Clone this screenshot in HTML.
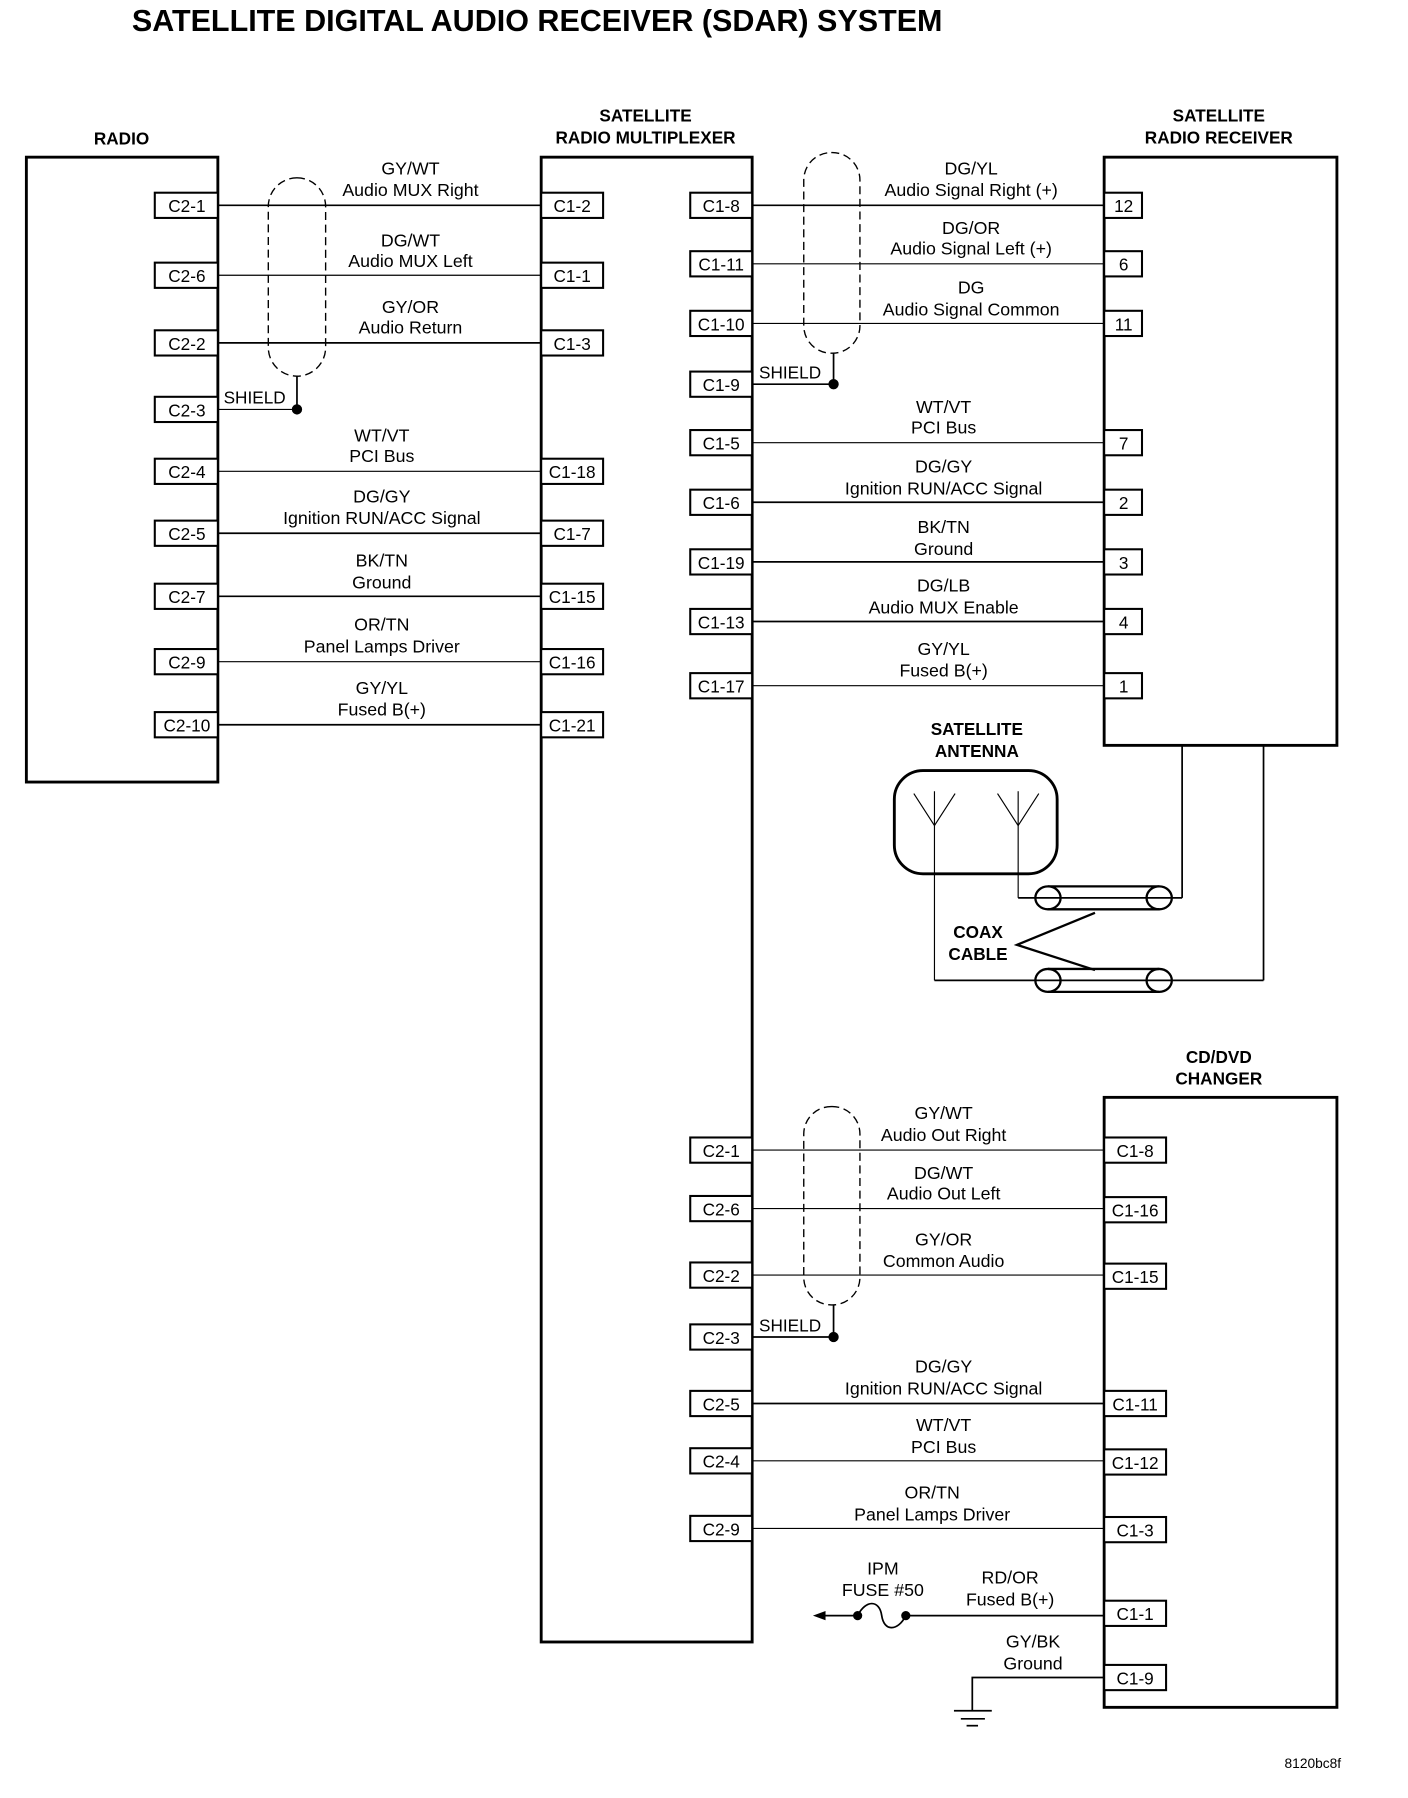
<!DOCTYPE html>
<html><head><meta charset="utf-8"><style>
html,body{margin:0;padding:0;background:#fff;}
svg{display:block;}
text{font-family:"Liberation Sans",Arial,sans-serif;fill:#000;}
.t{font-size:15.5px;text-anchor:middle;}
.p{font-size:15px;text-anchor:middle;}
.b{font-size:15px;font-weight:bold;text-anchor:middle;}
.box{fill:none;stroke:#000;stroke-width:2.5;}
.pin{fill:#fff;stroke:#000;stroke-width:1.8;}
.w{stroke:#000;stroke-width:1.5;fill:none;}
.wt{stroke:#000;stroke-width:1;fill:none;}
.sh{fill:none;stroke:#000;stroke-width:1.2;stroke-dasharray:7,4;}
</style></head><body>
<svg width="1408" height="1798" viewBox="0 0 1228 1568" xmlns="http://www.w3.org/2000/svg">
<text x="115" y="27" style="font-size:27px;font-weight:bold;" textLength="707" lengthAdjust="spacingAndGlyphs">SATELLITE DIGITAL AUDIO RECEIVER (SDAR) SYSTEM</text>

<text class="b" x="106" y="126">RADIO</text>
<rect class="box" x="23" y="137" width="167" height="545"/>
<text class="b" x="563" y="106">SATELLITE</text>
<text class="b" x="563" y="125">RADIO MULTIPLEXER</text>
<rect class="box" x="472" y="137" width="184" height="1295"/>
<text class="b" x="1063" y="106">SATELLITE</text>
<text class="b" x="1063" y="125">RADIO RECEIVER</text>
<rect class="box" x="963" y="137" width="203" height="513"/>
<text class="b" x="1063" y="927">CD/DVD</text>
<text class="b" x="1063" y="946">CHANGER</text>
<rect class="box" x="963" y="957" width="203" height="532"/>

<g>
<line class="w" x1="190" y1="179" x2="472" y2="179"/>
<line class="wt" x1="190" y1="240" x2="472" y2="240"/>
<line class="w" x1="190" y1="299" x2="472" y2="299"/>
<line class="wt" x1="190" y1="357" x2="259" y2="357"/>
<line class="wt" x1="190" y1="411" x2="472" y2="411"/>
<line class="w" x1="190" y1="465" x2="472" y2="465"/>
<line class="w" x1="190" y1="520" x2="472" y2="520"/>
<line class="wt" x1="190" y1="577" x2="472" y2="577"/>
<line class="w" x1="190" y1="632" x2="472" y2="632"/>
<rect class="sh" x="234" y="155" width="50" height="173" rx="25" ry="25"/>
<line class="w" x1="259" y1="328" x2="259" y2="357"/>
<circle cx="259" cy="357" r="4.5"/>
<text x="195" y="352" style="font-size:15px">SHIELD</text>
</g>
<g>
<text class="t" x="358" y="152">GY/WT</text><text class="t" x="358" y="171">Audio MUX Right</text>
<text class="t" x="358" y="215">DG/WT</text><text class="t" x="358" y="233">Audio MUX Left</text>
<text class="t" x="358" y="273">GY/OR</text><text class="t" x="358" y="291">Audio Return</text>
<text class="t" x="333" y="385">WT/VT</text><text class="t" x="333" y="403">PCI Bus</text>
<text class="t" x="333" y="438">DG/GY</text><text class="t" x="333" y="457">Ignition RUN/ACC Signal</text>
<text class="t" x="333" y="494">BK/TN</text><text class="t" x="333" y="513">Ground</text>
<text class="t" x="333" y="550">OR/TN</text><text class="t" x="333" y="569">Panel Lamps Driver</text>
<text class="t" x="333" y="605">GY/YL</text><text class="t" x="333" y="624">Fused B(+)</text>
</g>
<g>
<rect class="pin" x="135" y="168" width="55" height="22"/><text class="p" x="163" y="185">C2-1</text>
<rect class="pin" x="135" y="229" width="55" height="22"/><text class="p" x="163" y="246">C2-6</text>
<rect class="pin" x="135" y="288" width="55" height="22"/><text class="p" x="163" y="305">C2-2</text>
<rect class="pin" x="135" y="346" width="55" height="22"/><text class="p" x="163" y="363">C2-3</text>
<rect class="pin" x="135" y="400" width="55" height="22"/><text class="p" x="163" y="417">C2-4</text>
<rect class="pin" x="135" y="454" width="55" height="22"/><text class="p" x="163" y="471">C2-5</text>
<rect class="pin" x="135" y="509" width="55" height="22"/><text class="p" x="163" y="526">C2-7</text>
<rect class="pin" x="135" y="566" width="55" height="22"/><text class="p" x="163" y="583">C2-9</text>
<rect class="pin" x="135" y="621" width="55" height="22"/><text class="p" x="163" y="638">C2-10</text>
<rect class="pin" x="472" y="168" width="54" height="22"/><text class="p" x="499" y="185">C1-2</text>
<rect class="pin" x="472" y="229" width="54" height="22"/><text class="p" x="499" y="246">C1-1</text>
<rect class="pin" x="472" y="288" width="54" height="22"/><text class="p" x="499" y="305">C1-3</text>
<rect class="pin" x="472" y="400" width="54" height="22"/><text class="p" x="499" y="417">C1-18</text>
<rect class="pin" x="472" y="454" width="54" height="22"/><text class="p" x="499" y="471">C1-7</text>
<rect class="pin" x="472" y="509" width="54" height="22"/><text class="p" x="499" y="526">C1-15</text>
<rect class="pin" x="472" y="566" width="54" height="22"/><text class="p" x="499" y="583">C1-16</text>
<rect class="pin" x="472" y="621" width="54" height="22"/><text class="p" x="499" y="638">C1-21</text>
</g>

<g>
<line class="w" x1="656" y1="179" x2="963" y2="179"/>
<line class="wt" x1="656" y1="230" x2="963" y2="230"/>
<line class="wt" x1="656" y1="282" x2="963" y2="282"/>
<line class="w" x1="656" y1="335" x2="727" y2="335"/>
<line class="wt" x1="656" y1="386" x2="963" y2="386"/>
<line class="w" x1="656" y1="438" x2="963" y2="438"/>
<line class="w" x1="656" y1="490" x2="963" y2="490"/>
<line class="w" x1="656" y1="542" x2="963" y2="542"/>
<line class="wt" x1="656" y1="598" x2="963" y2="598"/>
<rect class="sh" x="701" y="133" width="49" height="175" rx="24" ry="24"/>
<line class="w" x1="727" y1="308" x2="727" y2="335"/>
<circle cx="727" cy="335" r="4.5"/>
<text x="662" y="330" style="font-size:15px">SHIELD</text>
<text class="t" x="847" y="152">DG/YL</text><text class="t" x="847" y="171">Audio Signal Right (+)</text>
<text class="t" x="847" y="204">DG/OR</text><text class="t" x="847" y="222">Audio Signal Left (+)</text>
<text class="t" x="847" y="256">DG</text><text class="t" x="847" y="275">Audio Signal Common</text>
<text class="t" x="823" y="360">WT/VT</text><text class="t" x="823" y="378">PCI Bus</text>
<text class="t" x="823" y="412">DG/GY</text><text class="t" x="823" y="431">Ignition RUN/ACC Signal</text>
<text class="t" x="823" y="465">BK/TN</text><text class="t" x="823" y="484">Ground</text>
<text class="t" x="823" y="516">DG/LB</text><text class="t" x="823" y="535">Audio MUX Enable</text>
<text class="t" x="823" y="571">GY/YL</text><text class="t" x="823" y="590">Fused B(+)</text>

<rect class="pin" x="602" y="168" width="54" height="22"/><text class="p" x="629" y="185">C1-8</text>
<rect class="pin" x="602" y="219" width="54" height="22"/><text class="p" x="629" y="236">C1-11</text>
<rect class="pin" x="602" y="271" width="54" height="22"/><text class="p" x="629" y="288">C1-10</text>
<rect class="pin" x="602" y="324" width="54" height="22"/><text class="p" x="629" y="341">C1-9</text>
<rect class="pin" x="602" y="375" width="54" height="22"/><text class="p" x="629" y="392">C1-5</text>
<rect class="pin" x="602" y="427" width="54" height="22"/><text class="p" x="629" y="444">C1-6</text>
<rect class="pin" x="602" y="479" width="54" height="22"/><text class="p" x="629" y="496">C1-19</text>
<rect class="pin" x="602" y="531" width="54" height="22"/><text class="p" x="629" y="548">C1-13</text>
<rect class="pin" x="602" y="587" width="54" height="22"/><text class="p" x="629" y="604">C1-17</text>

<rect class="pin" x="963" y="168" width="33" height="22"/><text class="p" x="980" y="185">12</text>
<rect class="pin" x="963" y="219" width="33" height="22"/><text class="p" x="980" y="236">6</text>
<rect class="pin" x="963" y="271" width="33" height="22"/><text class="p" x="980" y="288">11</text>
<rect class="pin" x="963" y="375" width="33" height="22"/><text class="p" x="980" y="392">7</text>
<rect class="pin" x="963" y="427" width="33" height="22"/><text class="p" x="980" y="444">2</text>
<rect class="pin" x="963" y="479" width="33" height="22"/><text class="p" x="980" y="496">3</text>
<rect class="pin" x="963" y="531" width="33" height="22"/><text class="p" x="980" y="548">4</text>
<rect class="pin" x="963" y="587" width="33" height="22"/><text class="p" x="980" y="604">1</text>
</g>

<g>
<text class="b" x="852" y="641">SATELLITE</text>
<text class="b" x="852" y="660">ANTENNA</text>
<rect class="box" x="780" y="672" width="142" height="90" rx="25" ry="25"/>
<polyline class="wt" points="797,692 815,720 833,692"/>
<polyline class="wt" points="870,692 888,720 906,692"/>
<line class="wt" x1="815" y1="690" x2="815" y2="855"/>
<line class="wt" x1="888" y1="690" x2="888" y2="783"/>
<line class="w" x1="888" y1="783" x2="1031" y2="783"/>
<line class="w" x1="1031" y1="783" x2="1031" y2="650"/>
<line class="w" x1="815" y1="855" x2="1102" y2="855"/>
<line class="w" x1="1102" y1="855" x2="1102" y2="650"/>
<path class="w" style="stroke-width:2" d="M914,773 H1011 M914,793 H1011"/>
<ellipse cx="914" cy="783" rx="11" ry="10" class="w" style="stroke-width:2"/>
<ellipse cx="1011" cy="783" rx="11" ry="10" class="w" style="stroke-width:2"/>
<path class="w" style="stroke-width:2" d="M914,845 H1011 M914,865 H1011"/>
<ellipse cx="914" cy="855" rx="11" ry="10" class="w" style="stroke-width:2"/>
<ellipse cx="1011" cy="855" rx="11" ry="10" class="w" style="stroke-width:2"/>
<polyline class="w" style="stroke-width:2" points="955,796 887,824 955,846"/>
<text class="b" x="853" y="818">COAX</text>
<text class="b" x="853" y="837">CABLE</text>
</g>

<g>
<line class="wt" x1="656" y1="1003" x2="963" y2="1003"/>
<line class="wt" x1="656" y1="1054" x2="963" y2="1054"/>
<line class="wt" x1="656" y1="1112" x2="963" y2="1112"/>
<line class="w" x1="656" y1="1166" x2="727" y2="1166"/>
<line class="w" x1="656" y1="1224" x2="963" y2="1224"/>
<line class="wt" x1="656" y1="1274" x2="963" y2="1274"/>
<line class="wt" x1="656" y1="1333" x2="963" y2="1333"/>
<rect class="sh" x="701" y="965" width="49" height="173" rx="24" ry="24"/>
<line class="w" x1="727" y1="1138" x2="727" y2="1166"/>
<circle cx="727" cy="1166" r="4.5"/>
<text x="662" y="1161" style="font-size:15px">SHIELD</text>
<text class="t" x="823" y="976">GY/WT</text><text class="t" x="823" y="995">Audio Out Right</text>
<text class="t" x="823" y="1028">DG/WT</text><text class="t" x="823" y="1046">Audio Out Left</text>
<text class="t" x="823" y="1086">GY/OR</text><text class="t" x="823" y="1105">Common Audio</text>
<text class="t" x="823" y="1197">DG/GY</text><text class="t" x="823" y="1216">Ignition RUN/ACC Signal</text>
<text class="t" x="823" y="1248">WT/VT</text><text class="t" x="823" y="1267">PCI Bus</text>
<text class="t" x="813" y="1307">OR/TN</text><text class="t" x="813" y="1326">Panel Lamps Driver</text>

<rect class="pin" x="602" y="992" width="54" height="22"/><text class="p" x="629" y="1009">C2-1</text>
<rect class="pin" x="602" y="1043" width="54" height="22"/><text class="p" x="629" y="1060">C2-6</text>
<rect class="pin" x="602" y="1101" width="54" height="22"/><text class="p" x="629" y="1118">C2-2</text>
<rect class="pin" x="602" y="1155" width="54" height="22"/><text class="p" x="629" y="1172">C2-3</text>
<rect class="pin" x="602" y="1213" width="54" height="22"/><text class="p" x="629" y="1230">C2-5</text>
<rect class="pin" x="602" y="1263" width="54" height="22"/><text class="p" x="629" y="1280">C2-4</text>
<rect class="pin" x="602" y="1322" width="54" height="22"/><text class="p" x="629" y="1339">C2-9</text>

<rect class="pin" x="963" y="992" width="54" height="22"/><text class="p" x="990" y="1009">C1-8</text>
<rect class="pin" x="963" y="1044" width="54" height="22"/><text class="p" x="990" y="1061">C1-16</text>
<rect class="pin" x="963" y="1102" width="54" height="22"/><text class="p" x="990" y="1119">C1-15</text>
<rect class="pin" x="963" y="1213" width="54" height="22"/><text class="p" x="990" y="1230">C1-11</text>
<rect class="pin" x="963" y="1264" width="54" height="22"/><text class="p" x="990" y="1281">C1-12</text>
<rect class="pin" x="963" y="1323" width="54" height="22"/><text class="p" x="990" y="1340">C1-3</text>
<rect class="pin" x="963" y="1396" width="54" height="22"/><text class="p" x="990" y="1413">C1-1</text>
<rect class="pin" x="963" y="1452" width="54" height="22"/><text class="p" x="990" y="1469">C1-9</text>

<text class="t" x="770" y="1373">IPM</text><text class="t" x="770" y="1392">FUSE #50</text>
<text class="t" x="881" y="1381">RD/OR</text><text class="t" x="881" y="1400">Fused B(+)</text>
<line class="w" x1="790" y1="1409" x2="963" y2="1409"/>
<path class="w" d="M748,1409 C755,1395 767,1395 769,1409 C771,1423 783,1423 790,1409"/>
<circle cx="790" cy="1409" r="4"/>
<circle cx="748" cy="1409" r="4"/>
<line class="w" x1="748" y1="1409" x2="718" y2="1409"/>
<polygon points="709,1409 720,1405 720,1413"/>
<text class="t" x="901" y="1437">GY/BK</text><text class="t" x="901" y="1456">Ground</text>
<polyline class="w" points="963,1463 848,1463 848,1492"/>
<line class="w" x1="832" y1="1492" x2="865" y2="1492"/>
<line class="w" x1="838" y1="1499" x2="859" y2="1499"/>
<line class="w" x1="843" y1="1505" x2="853" y2="1505"/>
</g>
<text x="1145" y="1542" style="font-size:12px;text-anchor:middle">8120bc8f</text>
</svg>
</body></html>
